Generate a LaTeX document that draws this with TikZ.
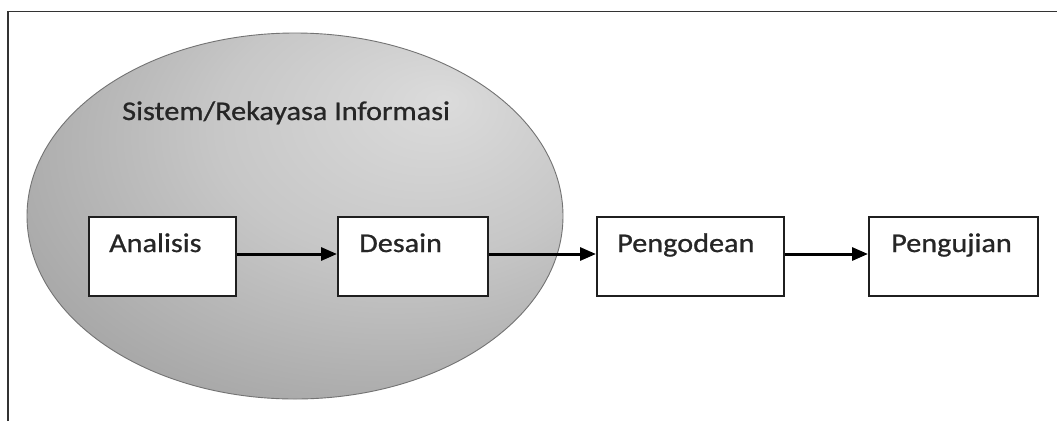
\documentclass[tikz,border=0pt]{standalone}
\usepackage{fontspec}
\setmainfont[FakeStretch=1.12,FakeBold=0.8]{Carlito}
\usetikzlibrary{arrows.meta,shapes.geometric,calc}
\pgfdeclareradialshading{ellshade}{\pgfpoint{14bp}{16bp}}{%
  color(0bp)=(black!14);
  color(18bp)=(black!22);
  color(45bp)=(black!40);
  color(62bp)=(black!52);
  color(75bp)=(black!58)}
\definecolor{txt}{HTML}{262626}
\tikzset{
  procbox/.style={draw=black!88, line width=2pt, fill=white, rectangle, inner sep=0pt},
  boxtext/.style={anchor=base west, inner sep=0pt, text=txt, font=\fontsize{27}{30}\selectfont},
  flow/.style={draw=black, line width=3pt, -{Triangle[length=16pt,width=13pt]}},
  frameline/.style={draw=black!80, line width=1.3pt}
}
\begin{document}
\begin{tikzpicture}[x=1pt,y=-1pt]
\useasboundingbox (0,0) rectangle (1057,421);
\fill[white] (0,0) rectangle (1057,421);
% frame
\draw[frameline] (8,421) -- (8,11.5) -- (1057,11.5);
% system ellipse
\node[ellipse, minimum width=536pt, minimum height=366pt, inner sep=0pt,
      shading=ellshade, draw=black!55, line width=0.9pt] (sys) at (295,216) {};
\node[boxtext] (systitle) at (122,120) {Sistem/Rekayasa Informasi};
% boxes
\node[procbox, minimum width=147pt, minimum height=79pt] (a) at (162.5,256.5) {};
\node[procbox, minimum width=150pt, minimum height=79pt] (d) at (413,256.5) {};
\node[procbox, minimum width=187pt, minimum height=79pt] (p) at (690.5,256.5) {};
\node[procbox, minimum width=169pt, minimum height=79pt] (u) at (953.5,256.5) {};
% texts
\node[boxtext] (at) at ($(a.north west)+(21,36)$) {Analisis};
\node[boxtext] (dt) at ($(d.north west)+(22,36)$) {Desain};
\node[boxtext] (pt) at ($(p.north west)+(21,36)$) {Pengodean};
\node[boxtext] (ut) at ($(u.north west)+(23,36)$) {Pengujian};
% arrows
\draw[flow] ([yshift=2.5pt]a.east) -- ([yshift=2.5pt]d.west);
\draw[flow] ([yshift=2.5pt]d.east) -- ([yshift=2.5pt]p.west);
\draw[flow] ([yshift=2.5pt]p.east) -- ([yshift=2.5pt]u.west);
\end{tikzpicture}
\end{document}
